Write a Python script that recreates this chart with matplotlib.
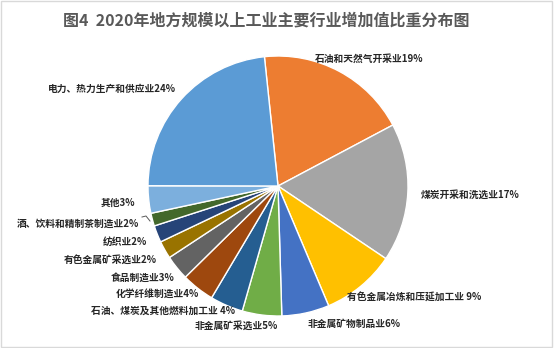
import matplotlib

matplotlib.use("Agg")
import matplotlib.pyplot as plt
from matplotlib.patches import Rectangle

plt.rcParams["font.family"] = ["Noto Sans CJK SC", "DejaVu Sans"]

TITLE = "图4  2020年地方规模以上工业主要行业增加值比重分布图"

# clockwise from top, shares (labels show rounded values)
industries = [
    "石油和天然气开采业", "煤炭开采和洗选业", "有色金属冶炼和压延加工业 ", "非金属矿物制品业",
    "非金属矿采选业", "石油、煤炭及其他燃料加工业 ", "化学纤维制造业", "食品制造业",
    "有色金属矿采选业", "纺织业", "酒、饮料和精制茶制造业", "其他", "电力、热力生产和供应业",
]
shares = [18.9, 17.2, 9.2, 5.9, 4.9, 4.1, 4.1, 3.1, 2.2, 2.1, 1.6, 3.4, 23.3]
label_pct = [19, 17, 9, 6, 5, 4, 4, 3, 2, 2, 2, 3, 24]
colors = [
    "#ED7D31", "#A5A5A5", "#FFC000", "#4472C4", "#70AD47", "#255E91", "#9E480E",
    "#636363", "#997300", "#264478", "#43682B", "#7CAFDD", "#5B9BD5",
]

# label anchors in pixels (x, y from top) and alignment
label_pos = [
    (315, 59, "left"), (421, 195, "left"), (347, 298, "left"), (308, 324, "left"),
    (278, 326, "right"), (235, 311, "right"), (199, 294, "right"), (174, 278, "right"),
    (157, 260, "right"), (147, 242, "right"), (139, 224, "right"), (135, 203, "right"),
    (176, 89, "right"),
]

W, H = 554, 348
fig = plt.figure(figsize=(W / 100, H / 100), dpi=100)
fig.patches.append(Rectangle((0.002, 0.003), 0.995, 0.993, transform=fig.transFigure,
                             fill=False, edgecolor="#D9D9D9", linewidth=1.0))

cx, cy, r = 278, 186, 130
ax = fig.add_axes([(cx - r) / W, (H - cy - r) / H, 2 * r / W, 2 * r / H])
ax.pie(shares, colors=colors, startangle=96, counterclock=False, radius=1.0,
       wedgeprops=dict(edgecolor="white", linewidth=1.0))
ax.set_xlim(-1, 1)
ax.set_ylim(-1, 1)
ax.set_aspect("equal")
ax.axis("off")

fig.text(266 / W, 1 - 21 / H, TITLE, ha="center", va="center", fontsize=11.5,
         fontweight="bold", color="#595959")

for name, pct, (x, y, ha) in zip(industries, label_pct, label_pos):
    fig.text(x / W, 1 - y / H, f"{name}{pct}%", ha=ha, va="center", fontsize=7,
             fontweight="bold", color="#262626")

# tiny leader line next to the drinks label
fig.lines.append(plt.Line2D([142 / W, 146 / W, 150 / W], [1 - 217 / H, 1 - 216 / H, 1 - 221 / H],
                            transform=fig.transFigure, color="#595959", linewidth=0.7))

fig.savefig("out.png", dpi=100)
